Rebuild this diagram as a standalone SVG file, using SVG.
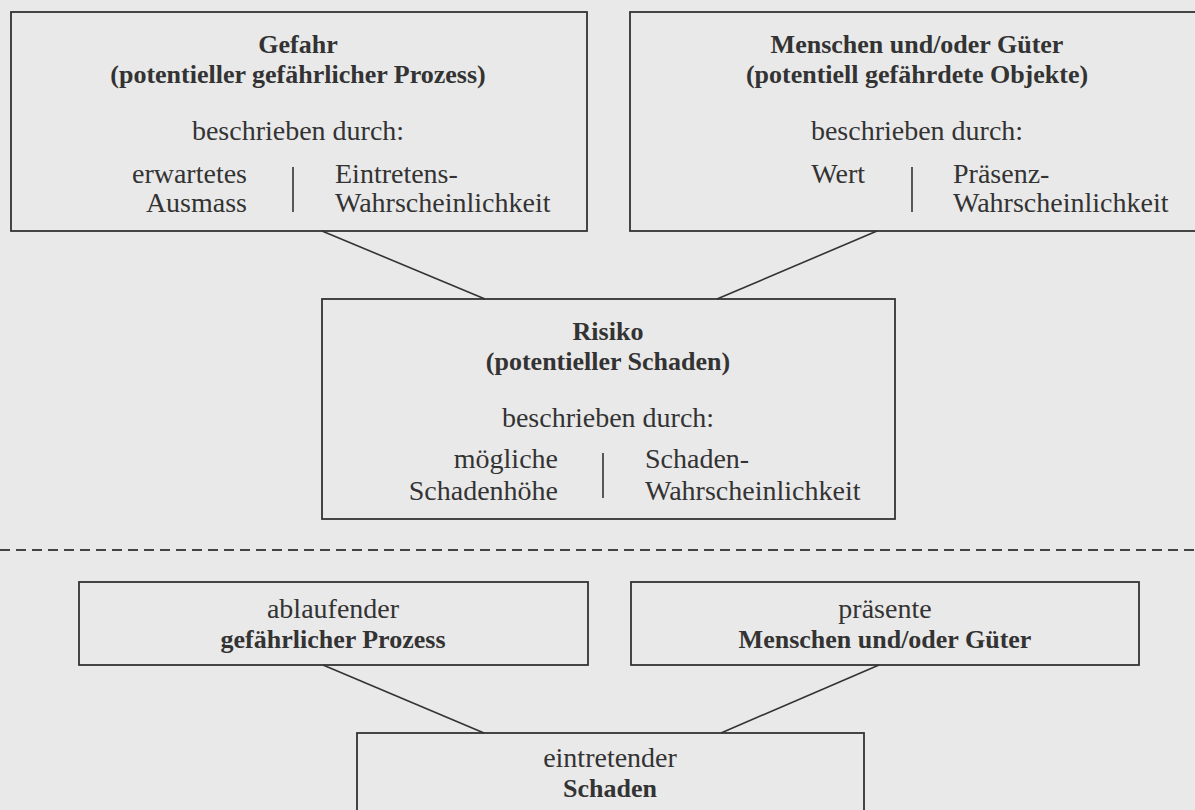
<svg xmlns="http://www.w3.org/2000/svg" width="1195" height="810" viewBox="0 0 1195 810">
<style>
.bg{fill:#e9e9e9}
.box{fill:none;stroke:#333;stroke-width:1.8}
.edge{fill:none;stroke:#333;stroke-width:1.6}
.div{stroke:#333;stroke-width:1.6}
.dash{stroke:#444;stroke-width:2;stroke-dasharray:10 6}
text{font-family:"Liberation Serif","Times New Roman",serif;fill:#333}
.b{font-size:26px;font-weight:bold;text-anchor:middle}
.r{font-size:28px}
.c{text-anchor:middle}
.e{text-anchor:end}
</style>
<rect class="bg" x="0" y="0" width="1195" height="810"/>
<g id="connectors">
<line class="edge" x1="322" y1="231" x2="485" y2="299"/>
<line class="edge" x1="877" y1="231" x2="717" y2="299"/>
<line class="edge" x1="323" y1="665" x2="484" y2="733"/>
<line class="edge" x1="879" y1="665" x2="721" y2="733"/>
</g>
<line id="separator" class="dash" x1="0" y1="550" x2="1195" y2="550"/>
<g id="gefahr">
<rect class="box" x="11" y="12" width="576" height="219"/>
<text class="b" x="298" y="53">Gefahr</text>
<text class="b" x="298" y="83">(potentieller gefährlicher Prozess)</text>
<text class="r c" x="298" y="140">beschrieben durch:</text>
<text class="r e" x="247" y="183">erwartetes</text>
<text class="r e" x="247" y="212">Ausmass</text>
<line class="div" x1="293" y1="167" x2="293" y2="212"/>
<text class="r" x="335" y="183">Eintretens-</text>
<text class="r" x="335" y="212">Wahrscheinlichkeit</text>
</g>
<g id="menschen">
<rect class="box" x="630" y="12" width="574" height="219"/>
<text class="b" x="917" y="53">Menschen und/oder Güter</text>
<text class="b" x="917" y="83">(potentiell gefährdete Objekte)</text>
<text class="r c" x="917" y="140">beschrieben durch:</text>
<text class="r e" x="865" y="183">Wert</text>
<line class="div" x1="912" y1="167" x2="912" y2="212"/>
<text class="r" x="953" y="183">Präsenz-</text>
<text class="r" x="953" y="212">Wahrscheinlichkeit</text>
</g>
<g id="risiko">
<rect class="box" x="322" y="299" width="573" height="220"/>
<text class="b" x="608" y="340">Risiko</text>
<text class="b" x="608" y="370">(potentieller Schaden)</text>
<text class="r c" x="608" y="427">beschrieben durch:</text>
<text class="r e" x="558" y="468">mögliche</text>
<text class="r e" x="558" y="500">Schadenhöhe</text>
<line class="div" x1="603" y1="453" x2="603" y2="498"/>
<text class="r" x="645" y="468">Schaden-</text>
<text class="r" x="645" y="500">Wahrscheinlichkeit</text>
</g>
<g id="ablaufender">
<rect class="box" x="79" y="582" width="509" height="83"/>
<text class="r c" x="333" y="618">ablaufender</text>
<text class="b" x="333" y="648">gefährlicher Prozess</text>
</g>
<g id="praesente">
<rect class="box" x="631" y="582" width="508" height="83"/>
<text class="r c" x="885" y="618">präsente</text>
<text class="b" x="885" y="648">Menschen und/oder Güter</text>
</g>
<g id="eintretender">
<rect class="box" x="357" y="733" width="507" height="90"/>
<text class="r c" x="610" y="767">eintretender</text>
<text class="b" x="610" y="797">Schaden</text>
</g>
</svg>
